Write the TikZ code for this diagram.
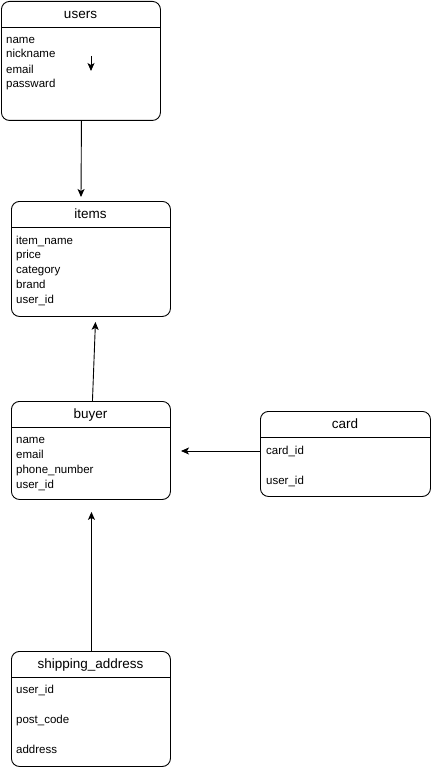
\documentclass[tikz,border=0pt]{standalone}
\usepackage{fontspec}
\setmainfont{Liberation Sans}
\usetikzlibrary{arrows.meta}
\begin{document}
\begin{tikzpicture}[x=1pt,y=-1pt,
  entity/.style={draw,rounded corners=8pt,line width=0.9pt,anchor=north west,inner sep=0pt,minimum width=#1},
  ttl/.style={font=\fontsize{13.5}{15}\selectfont,inner sep=0pt,text height=9.5pt,text depth=2.8pt,yshift=-1pt},
  fld/.style={font=\fontsize{11.5}{13}\selectfont,anchor=west,inner sep=0pt,text height=8.4pt,text depth=2.4pt,yshift=-1pt},
  arr/.style={line width=0.9pt,-{Stealth[length=8pt,width=7pt,inset=2pt]}},
  divl/.style={line width=0.9pt}]
\useasboundingbox (0,0) rectangle (431,770);
% users
\node[entity=159pt,minimum height=119pt] (users) at (1,1) {};
\draw[divl] (1,27) -- (160,27);
\node[ttl] (usersT) at (80.5,14) {users};
\node[fld] (u1) at (6,40) {name};
\node[fld] (u2) at (6,54) {nickname};
\node[fld] (u3) at (6,70) {email};
\node[fld] (u4) at (6,84) {passward};
\coordinate (s1) at (91,56);
\coordinate (s2) at (91,71);
\draw[arr] (s1) -- (s2);
% items
\node[entity=159pt,minimum height=115pt] (items) at (11,201) {};
\draw[divl] (11,227) -- (170,227);
\node[ttl] (itemsT) at (90.5,214) {items};
\node[fld] (i1) at (16,240) {item\_name};
\node[fld] (i2) at (16,254) {price};
\node[fld] (i3) at (16,269) {category};
\node[fld] (i4) at (16,284) {brand};
\node[fld] (i5) at (16,299) {user\_id};
% buyer
\node[entity=159pt,minimum height=98pt] (buyer) at (11,401) {};
\draw[divl] (11,427) -- (170,427);
\node[ttl] (buyerT) at (90.5,414) {buyer};
\node[fld] (b1) at (16,439) {name};
\node[fld] (b2) at (16,454) {email};
\node[fld] (b3) at (16,469) {phone\_number};
\node[fld] (b4) at (16,484) {user\_id};
% card
\node[entity=170pt,minimum height=85pt] (card) at (260,411) {};
\draw[divl] (260,437) -- (430,437);
\node[ttl] (cardT) at (345,424) {card};
\node[fld] (c1) at (266,450) {card\_id};
\node[fld] (c2) at (266,480) {user\_id};
% shipping_address
\node[entity=159pt,minimum height=115pt] (ship) at (11,651) {};
\draw[divl] (11,677) -- (170,677);
\node[ttl] (shipT) at (90.5,664) {shipping\_address};
\node[fld] (s1t) at (16,689) {user\_id};
\node[fld] (s2t) at (16,719) {post\_code};
\node[fld] (s3t) at (16,749) {address};
% connectors
\draw[arr] ([xshift=0.5pt]users.south) -- ([yshift=4pt]items.north -| 81,0);
\draw[arr] ([xshift=1.5pt]buyer.north) -- ([xshift=4.5pt,yshift=-5pt]items.south);
\draw[arr] (card.west |- 0,451) -- (181,451);
\draw[arr] ([xshift=0.5pt]ship.north) -- ([xshift=0.5pt,yshift=-12pt]buyer.south);
\end{tikzpicture}
\end{document}
